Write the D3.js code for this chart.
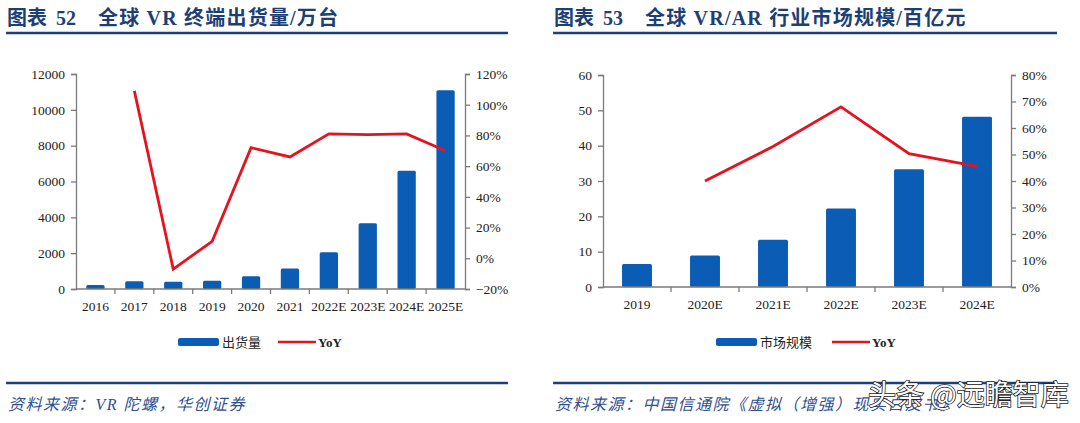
<!DOCTYPE html>
<html><head><meta charset="utf-8">
<script src="https://cdn.jsdelivr.net/npm/d3@7/dist/d3.min.js"></script>
<style>
html,body{margin:0;padding:0;background:#fff;}
svg{display:block;}
.tick text{font-family:"Liberation Serif","Times New Roman",serif;font-size:13.5px;fill:#222;}
</style></head>
<body>
<svg id="c" width="1080" height="423"></svg>
<script>
// ---- data ----
const categoriesL = ["2016","2017","2018","2019","2020","2021","2022E","2023E","2024E","2025E"];
const shipments = [220, 430, 400, 460, 710, 1150, 2050, 3670, 6600, 11100];
const yoyL = [null, 1.09, -0.07, 0.11, 0.72, 0.66, 0.81, 0.805, 0.81, 0.70];
const ticksLeftL = [0, 2000, 4000, 6000, 8000, 10000, 12000];
const ticksRightL = [-0.2, 0, 0.2, 0.4, 0.6, 0.8, 1.0, 1.2];

const categoriesR = ["2019","2020E","2021E","2022E","2023E","2024E"];
const marketSize = [6.5, 8.9, 13.4, 22.2, 33.3, 48.2];
const yoyR = [null, 0.40, 0.53, 0.68, 0.503, 0.455];
const ticksLeftR = [0, 10, 20, 30, 40, 50, 60];
const ticksRightR = [0, 0.1, 0.2, 0.3, 0.4, 0.5, 0.6, 0.7, 0.8];

const titleL = ["图表", "52", "全球 VR 终端出货量/万台"];
const titleR = ["图表", "53", "全球 VR/AR 行业市场规模/百亿元"];
const legendL = ["出货量", "YoY"];
const legendR = ["市场规模", "YoY"];
const sourceL = "资料来源：VR 陀螺，华创证券";
const sourceR = "资料来源：中国信通院《虚拟（增强）现实白皮书》";
const watermark = "头条 @远瞻智库";

// ---- style ----
const BAR = "#0B5CB5", RED = "#E3141F", NAVY = "#1E3F74", AXIS = "#7a7a7a";
const svg = d3.select("#c");

function panel(o) {
  const g = svg.append("g");
  // title
  const t = g.append("text").attr("x", o.px0 + 1).attr("y", 25)
    .attr("fill", NAVY).attr("font-weight", "bold")
    .attr("font-family", "'Liberation Serif','Noto Sans CJK SC',serif").attr("font-size", 20);
  t.append("tspan").text(o.title[0]);
  t.append("tspan").attr("dx", 9).text(o.title[1]);
  t.append("tspan").attr("dx", 22).attr("letter-spacing", 1.2).text(o.title[2]);
  g.append("line").attr("x1", o.px0).attr("x2", o.px1).attr("y1", 33).attr("y2", 33)
    .attr("stroke", NAVY).attr("stroke-width", 2.5);
  g.append("line").attr("x1", o.px0).attr("x2", o.px1).attr("y1", 383).attr("y2", 383)
    .attr("stroke", NAVY).attr("stroke-width", 2.5);
  g.append("text").attr("x", o.px0 + 2).attr("y", 410).attr("fill", "#2F4F8F")
    .attr("font-style", "italic").attr("font-size", 16).attr("letter-spacing", 1.5)
    .attr("font-family", "'Liberation Serif','Noto Sans CJK SC',serif").text(o.source);

  const x = d3.scaleBand().domain(o.cats).range([o.x0, o.x1]).paddingInner(o.pad).paddingOuter(o.pad / 2);
  const xb = d3.scaleBand().domain(o.cats).range([o.x0, o.x1]).padding(0);
  const yL = d3.scaleLinear().domain(o.domL).range([o.yb, o.yt]);
  const yR = d3.scaleLinear().domain(o.domR).range([o.yb, o.yt]);

  // bars
  g.append("g").selectAll("rect").data(o.vals).join("rect")
    .attr("x", (d, i) => x(o.cats[i])).attr("width", x.bandwidth())
    .attr("y", d => yL(d)).attr("height", d => yL(o.domL[0]) - yL(d))
    .attr("fill", BAR).attr("rx", 1.5);

  // left axis
  const aL = g.append("g").attr("transform", `translate(${o.x0},0)`)
    .call(d3.axisLeft(yL).tickValues(o.ticksL).tickSize(5).tickPadding(6).tickFormat(d3.format("d")));
  // right axis
  const aR = g.append("g").attr("transform", `translate(${o.x1},0)`)
    .call(d3.axisRight(yR).tickValues(o.ticksR).tickSize(5).tickPadding(6).tickFormat(d3.format(".0%")));
  // bottom axis with ticks at band boundaries
  const ax = g.append("g").attr("transform", `translate(0,${yL(o.domL[0])})`);
  ax.append("line").attr("x1", o.x0).attr("x2", o.x1).attr("stroke", AXIS).attr("stroke-width", 1.3);
  ax.selectAll("line.tk").data(o.cats.slice(1)).join("line").attr("class", "tk")
    .attr("x1", d => xb(d)).attr("x2", d => xb(d)).attr("y1", 0).attr("y2", 5)
    .attr("stroke", AXIS).attr("stroke-width", 1.3);
  ax.selectAll("text").data(o.cats).join("text")
    .attr("x", d => xb(d) + xb.bandwidth() / 2).attr("y", 22).attr("text-anchor", "middle")
    .attr("font-family", "'Liberation Serif','Times New Roman',serif").attr("font-size", 13.5)
    .attr("fill", "#222").text(d => d);
  [aL, aR].forEach(a => {
    a.select(".domain").attr("stroke", AXIS).attr("stroke-width", 1.3);
    a.selectAll(".tick line").attr("stroke", AXIS).attr("stroke-width", 1.3);
  });
  // line
  const line = d3.line().defined(d => d != null)
    .x((d, i) => xb(o.cats[i]) + xb.bandwidth() / 2).y(d => yR(d));
  g.append("path").datum(o.yoy).attr("d", line).attr("fill", "none")
    .attr("stroke", RED).attr("stroke-width", 2.8).attr("stroke-linejoin", "miter");

  // legend
  const lg = g.append("g").attr("font-family", "'Liberation Serif','Noto Sans CJK SC',serif")
    .attr("font-size", 13).attr("fill", "#222");
  lg.append("rect").attr("x", o.leg[0]).attr("y", 338).attr("width", 41).attr("height", 8)
    .attr("rx", 2).attr("fill", BAR);
  lg.append("text").attr("x", o.leg[0] + 44).attr("y", 347).text(o.legend[0]);
  lg.append("line").attr("x1", o.leg[1]).attr("x2", o.leg[1] + 38).attr("y1", 342).attr("y2", 342)
    .attr("stroke", RED).attr("stroke-width", 2.6);
  lg.append("text").attr("x", o.leg[1] + 40).attr("y", 347).attr("font-weight", "bold").text(o.legend[1]);
}

panel({px0: 6, px1: 508, x0: 76, x1: 465, yt: 74, yb: 289, pad: 0.53,
  cats: categoriesL, vals: shipments, yoy: yoyL, domL: [0, 12000], domR: [-0.2, 1.2],
  ticksL: ticksLeftL, ticksR: ticksRightL, title: titleL, legend: legendL, source: sourceL,
  leg: [178, 278]});
panel({px0: 553, px1: 1057, x0: 603, x1: 1011, yt: 75, yb: 287, pad: 0.56,
  cats: categoriesR, vals: marketSize, yoy: yoyR, domL: [0, 60], domR: [0, 0.8],
  ticksL: ticksLeftR, ticksR: ticksRightR, title: titleR, legend: legendR, source: sourceR,
  leg: [716, 832]});

// watermark
svg.append("text").attr("x", 868).attr("y", 405).attr("font-size", 28)
  .attr("font-family", "'Noto Sans CJK SC',sans-serif").attr("fill", "#fff")
  .attr("stroke", "#222").attr("stroke-width", 1.6).attr("paint-order", "stroke")
  .text(watermark);
</script>
</body></html>
